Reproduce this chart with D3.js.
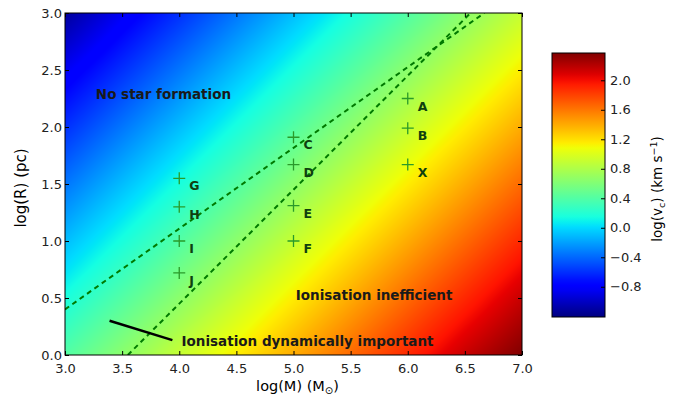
<!DOCTYPE html>
<html><head><meta charset="utf-8">
<script src="https://cdn.jsdelivr.net/npm/d3@7"></script>
<style>body{margin:0;background:#fff} svg text{font-family:"DejaVu Sans",sans-serif}</style>
</head><body><svg id="c" width="678" height="396"></svg>
<script>
// ---- data ----
const massTicks = [3.0, 3.5, 4.0, 4.5, 5.0, 5.5, 6.0, 6.5, 7.0];
const radiusTicks = [0.0, 0.5, 1.0, 1.5, 2.0, 2.5, 3.0];
const cbarTicks = [-0.8, -0.4, 0.0, 0.4, 0.8, 1.2, 1.6, 2.0];
const cbarDomain = [-1.21, 2.37];

// log(v) field sampled at grid nodes (rows: radius, cols: mass)
const gridMass = [3.0, 3.5, 4.0, 4.5, 5.0, 5.5, 6.0, 6.5, 7.0];
const gridRadius = [0.0, 0.5, 1.0, 1.5, 2.0, 2.5, 3.0];
const vGrid = [
  [ 0.40,  0.65,  0.90,  1.15,  1.40,  1.65,  1.90,  2.15,  2.37],
  [ 0.15,  0.40,  0.65,  0.90,  1.15,  1.40,  1.65,  1.90,  2.15],
  [-0.10,  0.15,  0.40,  0.65,  0.90,  1.15,  1.40,  1.65,  1.90],
  [-0.35, -0.10,  0.15,  0.40,  0.65,  0.90,  1.15,  1.40,  1.65],
  [-0.60, -0.35, -0.10,  0.15,  0.40,  0.65,  0.90,  1.15,  1.40],
  [-0.85, -0.60, -0.35, -0.10,  0.15,  0.40,  0.65,  0.90,  1.15],
  [-1.12, -0.85, -0.60, -0.35, -0.10,  0.15,  0.40,  0.65,  0.90]
];

const pointLabels = ["A", "B", "X", "C", "D", "E", "F", "G", "H", "I", "J"];
const pointMass   = [6.0, 6.0, 6.0, 5.0, 5.0, 5.0, 5.0, 4.0, 4.0, 4.0, 4.0];
const pointRadius = [2.25, 1.99, 1.67, 1.91, 1.67, 1.31, 1.00, 1.55, 1.30, 1.00, 0.72];

const line1Mass = [3.0, 6.67], line1Radius = [0.40, 3.0];
const line2Mass = [3.55, 6.55], line2Radius = [0.0, 3.0];
const pointerMass = [3.39, 3.94], pointerRadius = [0.30, 0.13];

const annoText = ["No star formation", "Ionisation inefficient", "Ionisation dynamically important"];
const annoMass = [3.27, 5.02, 4.02];
const annoRadius = [2.245, 0.48, 0.08];

// ---- layout ----
const svg = d3.select("#c");
const X0 = 65, X1 = 522, Y0 = 355, Y1 = 13;
const x = d3.scaleLinear().domain([3, 7]).range([X0, X1]);
const y = d3.scaleLinear().domain([0, 3]).range([Y0, Y1]);

function lerpStops(t, s) {
  for (let i = 1; i < s.length; i++) {
    if (t <= s[i][0]) { const a = s[i-1], b = s[i]; return a[1] + (b[1]-a[1])*(t-a[0])/(b[0]-a[0]); }
  }
  return s[s.length-1][1];
}
function jet(t) {
  t = Math.max(0, Math.min(1, t));
  const r = lerpStops(t, [[0,0],[0.35,0],[0.66,1],[0.89,1],[1,0.5]]);
  const g = lerpStops(t, [[0,0],[0.125,0],[0.375,1],[0.64,1],[0.91,0],[1,0]]);
  const b = lerpStops(t, [[0,0.5],[0.11,1],[0.34,1],[0.65,0],[1,0]]);
  return [Math.round(r*255), Math.round(g*255), Math.round(b*255)];
}
const cnorm = d3.scaleLinear().domain(cbarDomain).range([0, 1]);

// heatmap image (bilinear rendering of the grid)
const W = X1 - X0, H = Y0 - Y1;
const cv = document.createElement("canvas"); cv.width = W; cv.height = H;
const ctx = cv.getContext("2d");
const img = ctx.createImageData(W, H);
const mi = d3.scaleLinear().domain([gridMass[0], gridMass[gridMass.length-1]]).range([0, gridMass.length-1]);
const ri = d3.scaleLinear().domain([gridRadius[0], gridRadius[gridRadius.length-1]]).range([0, gridRadius.length-1]);
for (let py = 0; py < H; py++) {
  const R = y.invert(Y1 + py + 0.5);
  let fr = Math.max(0, Math.min(gridRadius.length-1.0001, ri(R)));
  const r0 = Math.floor(fr), tr = fr - r0;
  for (let px = 0; px < W; px++) {
    const M = x.invert(X0 + px + 0.5);
    let fm = Math.max(0, Math.min(gridMass.length-1.0001, mi(M)));
    const m0 = Math.floor(fm), tm = fm - m0;
    const v = (vGrid[r0][m0]*(1-tm) + vGrid[r0][m0+1]*tm)*(1-tr) + (vGrid[r0+1][m0]*(1-tm) + vGrid[r0+1][m0+1]*tm)*tr;
    const c = jet(cnorm(v));
    const k = (py*W + px)*4;
    img.data[k] = c[0]; img.data[k+1] = c[1]; img.data[k+2] = c[2]; img.data[k+3] = 255;
  }
}
ctx.putImageData(img, 0, 0);
svg.append("image").attr("x", X0).attr("y", Y1).attr("width", W).attr("height", H)
  .attr("preserveAspectRatio", "none").attr("href", cv.toDataURL());

// clip
svg.append("clipPath").attr("id", "clip").append("rect").attr("x", X0).attr("y", Y1).attr("width", W).attr("height", H);
const plot = svg.append("g").attr("clip-path", "url(#clip)");

const lineGen = d3.line().x(d => x(d[0])).y(d => y(d[1]));
[[line1Mass, line1Radius], [line2Mass, line2Radius]].forEach(([ms, rs]) => {
  plot.append("path").datum(ms.map((m, i) => [m, rs[i]])).attr("d", lineGen)
    .attr("fill", "none").attr("stroke", "#007a00").attr("stroke-width", 2).attr("stroke-dasharray", "5,4");
});
plot.append("path").datum(pointerMass.map((m, i) => [m, pointerRadius[i]])).attr("d", lineGen)
  .attr("fill", "none").attr("stroke", "#000").attr("stroke-width", 2.5);

// markers
const pts = pointLabels.map((l, i) => ({l, m: pointMass[i], r: pointRadius[i]}));
plot.selectAll(".mk").data(pts).enter().append("path")
  .attr("d", d => `M${x(d.m)-6},${y(d.r)}h12M${x(d.m)},${y(d.r)-6}v12`)
  .attr("stroke", "#2a9a2a").attr("stroke-width", 1.3).attr("fill", "none");
plot.selectAll(".lb").data(pts).enter().append("text")
  .attr("x", d => x(d.m) + 10).attr("y", d => y(d.r) + 12)
  .attr("font-size", 12.5).attr("font-weight", "bold").attr("fill", "#0f3f0f").text(d => d.l);

// annotations
annoText.forEach((t, i) => {
  plot.append("text").attr("x", x(annoMass[i])).attr("y", y(annoRadius[i]))
    .attr("font-size", 13.5).attr("font-weight", "bold").attr("fill", "#1a1a1a").text(t);
});

// axes
function styleAxis(g, labels) {
  g.select(".domain").remove();
  g.selectAll(".tick line").attr("stroke", "#000");
  g.selectAll("text").attr("font-size", 13).attr("fill", "#222").attr("font-family", "DejaVu Sans");
  if (!labels) g.selectAll("text").remove();
}
const fmt = d3.format(".1f");
svg.append("g").attr("transform", `translate(0,${Y0})`)
  .call(d3.axisBottom(x).tickValues(massTicks).tickFormat(fmt).tickSize(-4).tickPadding(9)).call(g => styleAxis(g, true));
svg.append("g").attr("transform", `translate(0,${Y1})`)
  .call(d3.axisTop(x).tickValues(massTicks).tickSize(-4)).call(g => styleAxis(g, false));
svg.append("g").attr("transform", `translate(${X0},0)`)
  .call(d3.axisLeft(y).tickValues(radiusTicks).tickFormat(fmt).tickSize(-4).tickPadding(3)).call(g => styleAxis(g, true));
svg.append("g").attr("transform", `translate(${X1},0)`)
  .call(d3.axisRight(y).tickValues(radiusTicks).tickSize(-4)).call(g => styleAxis(g, false));
svg.append("rect").attr("x", X0).attr("y", Y1).attr("width", W).attr("height", H)
  .attr("fill", "none").attr("stroke", "#000").attr("stroke-width", 1);

// axis labels
svg.append("text").attr("x", (X0+X1)/2 + 4).attr("y", 391).attr("text-anchor", "middle").attr("font-size", 14.5)
  .html('log(M) (M<tspan font-size="10" dy="3">⊙</tspan><tspan dy="-3">)</tspan>');
svg.append("text").attr("transform", `translate(26,${(Y0+Y1)/2 + 4}) rotate(-90)`).attr("text-anchor", "middle").attr("font-size", 15)
  .text("log(R) (pc)");

// colorbar
const CX0 = 552, CX1 = 605, CY0 = 53, CY1 = 317;
const cy = d3.scaleLinear().domain(cbarDomain).range([CY1, CY0]);
const grad = svg.append("defs").append("linearGradient").attr("id", "cb").attr("x1", 0).attr("y1", 1).attr("x2", 0).attr("y2", 0);
d3.range(0, 1.0001, 0.02).forEach(t => {
  const c = jet(t);
  grad.append("stop").attr("offset", t).attr("stop-color", `rgb(${c[0]},${c[1]},${c[2]})`);
});
svg.append("rect").attr("x", CX0).attr("y", CY0).attr("width", CX1-CX0).attr("height", CY1-CY0)
  .attr("fill", "url(#cb)").attr("stroke", "#000").attr("stroke-width", 1);
svg.append("g").attr("transform", `translate(${CX1},0)`)
  .call(d3.axisRight(cy).tickValues(cbarTicks).tickFormat(d => fmt(d).replace("-", "\u2212")).tickSize(-4).tickPadding(5))
  .call(g => styleAxis(g, true));
svg.append("text").attr("transform", `translate(662,${(CY0+CY1)/2 + 4}) rotate(-90)`).attr("text-anchor", "middle").attr("font-size", 13.5)
  .html('log(v<tspan font-size="9.5" dy="3">c</tspan><tspan dy="-3">) (km s</tspan><tspan font-size="9.5" dy="-5">−1</tspan><tspan dy="5">)</tspan>');
</script></body></html>
